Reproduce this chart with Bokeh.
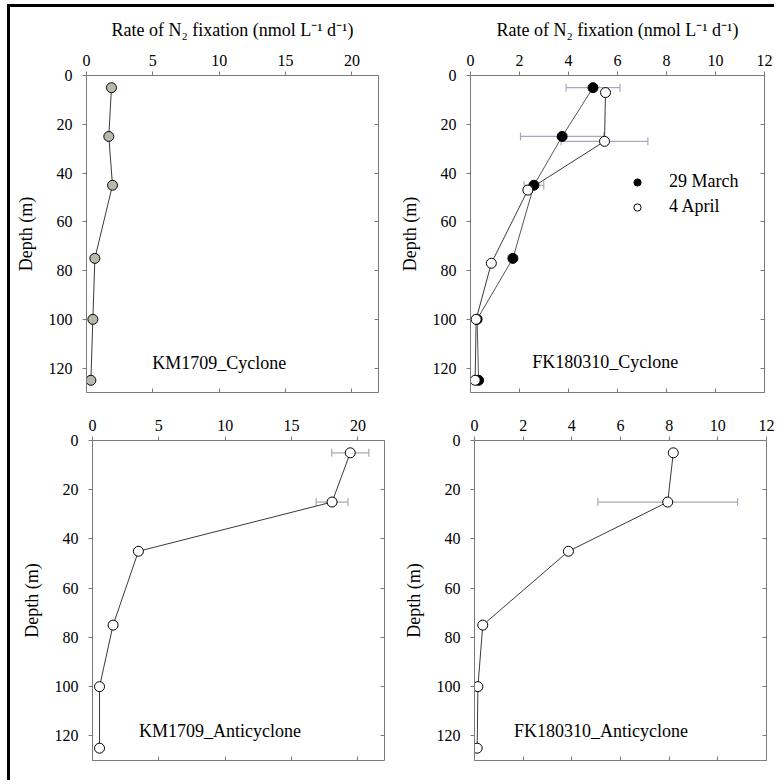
from bokeh.plotting import figure
from bokeh.models import (Range1d, LinearAxis, FixedTicker, CustomJSTickFormatter, Whisker,
                          ColumnDataSource, Label, Legend, LegendItem, TeeHead)
from bokeh.layouts import row, column
from bokeh.embed import file_html
from bokeh.resources import INLINE

# ---------------- data ----------------
depths = [5, 25, 45, 75, 100, 125]

km_cyc_rate = [1.88, 1.68, 1.96, 0.63, 0.48, 0.33]

fk_cyc_mar_depth = [5, 25, 45, 75, 100, 125]
fk_cyc_mar_rate = [5.0, 3.74, 2.59, 1.73, 0.27, 0.33]
fk_cyc_mar_err = [1.1, 1.7, 0.4, 0.0, 0.0, 0.0]

fk_cyc_apr_depth = [7, 27, 47, 77, 100, 125]
fk_cyc_apr_rate = [5.51, 5.47, 2.34, 0.85, 0.23, 0.19]
fk_cyc_apr_err = [0.0, 1.77, 0.0, 0.0, 0.0, 0.0]

km_anti_rate = [19.42, 18.05, 3.46, 1.55, 0.53, 0.53]
km_anti_err = [1.4, 1.2, 0.0, 0.0, 0.0, 0.0]

fk_anti_rate = [8.17, 7.94, 3.86, 0.34, 0.14, 0.11]
fk_anti_err = [0.0, 2.87, 0.0, 0.0, 0.0, 0.0]

km_xticks = [0, 5, 10, 15, 20]
fk_xticks = [0, 2, 4, 6, 8, 10, 12]
y_ticks = [0, 20, 40, 60, 80, 100, 120]

x_title = "Rate of N\u2082 fixation (nmol L\u207b\u00b9 d\u207b\u00b9)"
y_title = "Depth (m)"

# ---------------- style ----------------
FONT = "Liberation Serif"
GREY = "#7a7a7a"
LINE = "#3a3a3a"
ERR = "#a8a8bc"
GRAYFILL = "#b9b9ab"


def make_panel(xmax, xticks, width, height, mbl, mbr, mbt, mbb, xlabel):
    p = figure(width=width, height=height, x_range=Range1d(0, xmax), y_range=Range1d(130, 0),
               x_axis_location="above", toolbar_location=None, output_backend="svg",
               min_border_left=mbl, min_border_right=mbr, min_border_top=mbt, min_border_bottom=mbb,
               outline_line_color=None, background_fill_color="white", border_fill_color="white")
    p.xgrid.visible = False
    p.ygrid.visible = False
    xa = p.xaxis[0]
    ya = p.yaxis[0]
    xa.ticker = FixedTicker(ticks=xticks)
    ya.ticker = FixedTicker(ticks=y_ticks)
    for ax in (xa, ya):
        ax.axis_line_color = GREY
        ax.major_tick_line_color = GREY
        ax.minor_tick_line_color = None
        ax.major_tick_in = 0
        ax.major_tick_out = 4
        ax.major_label_text_font = FONT
        ax.major_label_text_font_size = "16px"
        ax.major_label_text_color = "black"
        ax.axis_label_text_font = FONT
        ax.axis_label_text_font_size = "18px"
        ax.axis_label_text_font_style = "normal"
        ax.axis_label_text_color = "black"
    xa.major_label_standoff = 6
    ya.major_label_standoff = 10
    ya.axis_label = y_title
    ya.axis_label_standoff = 10
    if xlabel:
        xa.axis_label = x_title
        xa.axis_label_standoff = 12
    # mirror axes: right and bottom with inward ticks, no labels
    for loc, ticks in (("right", y_ticks), ("below", xticks)):
        ax = LinearAxis(ticker=FixedTicker(ticks=ticks),
                        formatter=CustomJSTickFormatter(code="return ''"),
                        axis_line_color=GREY, major_tick_line_color=GREY,
                        minor_tick_line_color=None, major_tick_in=4, major_tick_out=0,
                        major_label_standoff=0)
        p.add_layout(ax, loc)
    return p


def add_err(p, ys, xs, errs):
    sel = [i for i, e in enumerate(errs) if e > 0]
    src = ColumnDataSource(dict(
        base=[ys[i] for i in sel],
        lower=[xs[i] - errs[i] for i in sel],
        upper=[xs[i] + errs[i] for i in sel],
    ))
    w = Whisker(source=src, base="base", lower="lower", upper="upper", dimension="width",
                line_color=ERR, line_width=1.2,
                lower_head=TeeHead(size=8, line_color=ERR, line_width=1.2),
                upper_head=TeeHead(size=8, line_color=ERR, line_width=1.2))
    p.add_layout(w)


def add_label(p, x, y, text):
    p.add_layout(Label(x=x, y=y, text=text, text_align="center", text_baseline="middle",
                       text_font=FONT, text_font_size="18px", text_color="black"))


# ---------------- panels ----------------
p1 = make_panel(22, km_xticks, 380, 398, 76, 12, 68, 10, True)
p1.line(km_cyc_rate, depths, line_color=LINE, line_width=1)
p1.scatter(km_cyc_rate, depths, size=10, fill_color=GRAYFILL, line_color="black", line_width=1)
add_label(p1, 10.0, 118, "KM1709_Cyclone")

p2 = make_panel(12, fk_xticks, 384, 398, 80, 10, 64, 13, True)
add_err(p2, fk_cyc_mar_depth, fk_cyc_mar_rate, fk_cyc_mar_err)
add_err(p2, fk_cyc_apr_depth, fk_cyc_apr_rate, fk_cyc_apr_err)
p2.line(fk_cyc_mar_rate, fk_cyc_mar_depth, line_color="#555555", line_width=1)
p2.line(fk_cyc_apr_rate, fk_cyc_apr_depth, line_color=LINE, line_width=1)
r_mar = p2.scatter(fk_cyc_mar_rate, fk_cyc_mar_depth, size=10, fill_color="black",
                   line_color="black", line_width=1)
r_apr = p2.scatter(fk_cyc_apr_rate, fk_cyc_apr_depth, size=10, fill_color="white",
                   line_color="black", line_width=1)
add_label(p2, 5.5, 117.6, "FK180310_Cyclone")
leg = Legend(items=[LegendItem(label="29 March", renderers=[r_mar]),
                    LegendItem(label="4 April", renderers=[r_apr])],
             location=(157, 175), padding=0, margin=0, spacing=4,
             glyph_width=20, glyph_height=18, label_height=18, label_standoff=22,
             label_text_font=FONT, label_text_font_size="18px", label_text_color="black",
             border_line_color=None, background_fill_alpha=0)
p2.add_layout(leg)

p3 = make_panel(22, km_xticks, 382, 375, 82, 8, 35, 20, False)
add_err(p3, depths, km_anti_rate, km_anti_err)
p3.line(km_anti_rate, depths, line_color=LINE, line_width=1)
p3.scatter(km_anti_rate, depths, size=10, fill_color="white", line_color="black", line_width=1)
add_label(p3, 9.6, 117.9, "KM1709_Anticyclone")

p4 = make_panel(12, fk_xticks, 382, 375, 82, 8, 35, 20, False)
add_err(p4, depths, fk_anti_rate, fk_anti_err)
p4.line(fk_anti_rate, depths, line_color=LINE, line_width=1)
p4.scatter(fk_anti_rate, depths, size=10, fill_color="white", line_color="black", line_width=1)
add_label(p4, 5.2, 118, "FK180310_Anticyclone")

layout = column(row(p1, p2), row(p3, p4),
                styles={"border-left": "3px solid black", "border-top": "3px solid black",
                        "margin-top": "4px", "margin-left": "7px"})

open("out.html", "w").write(file_html(layout, INLINE))
